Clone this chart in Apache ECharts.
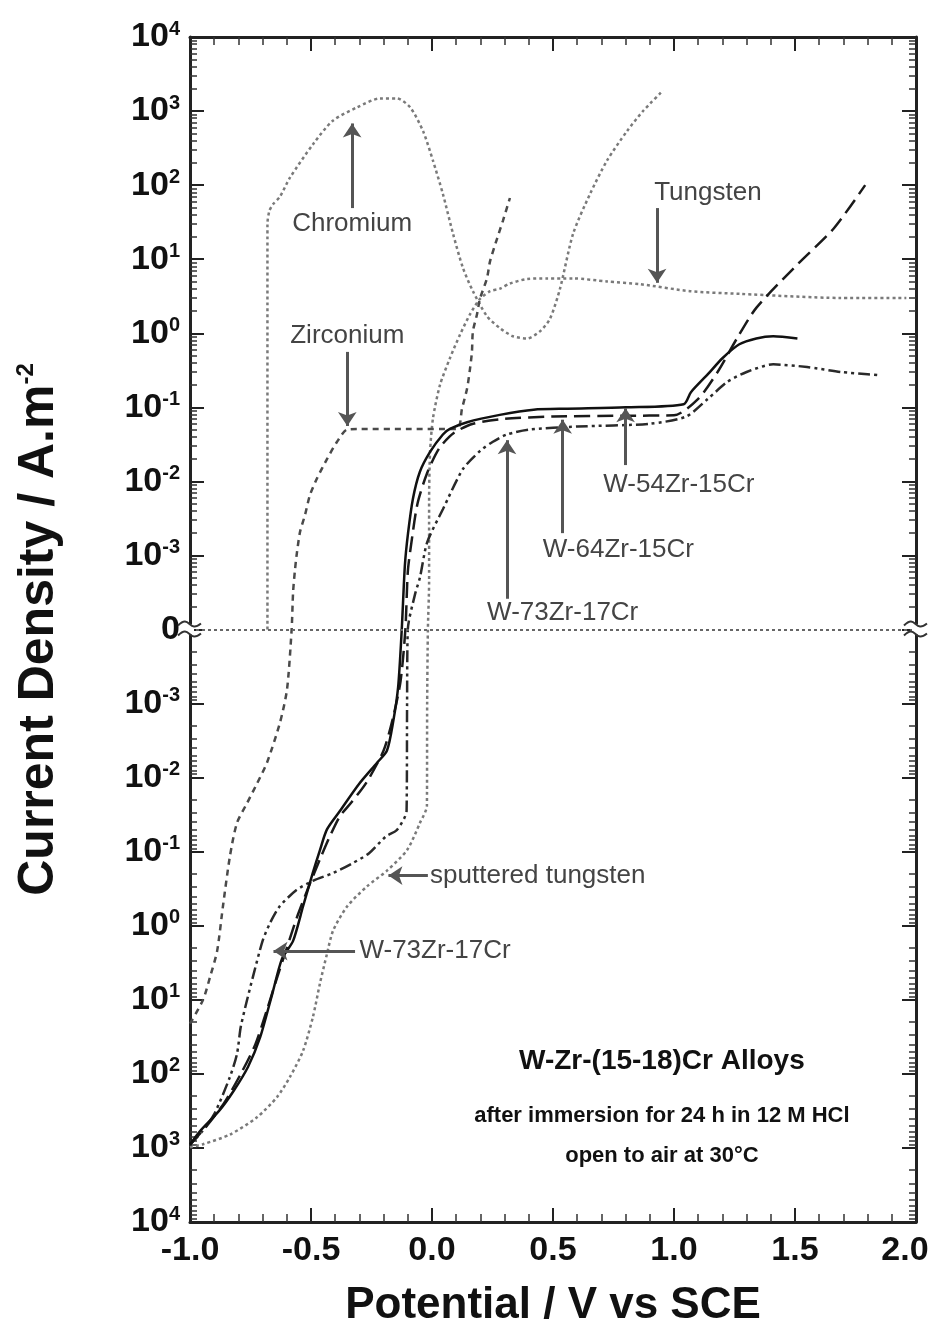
<!DOCTYPE html>
<html>
<head>
<meta charset="utf-8">
<title>W-Zr-(15-18)Cr Alloys</title>
<script src="https://cdn.jsdelivr.net/npm/echarts@6/dist/echarts.min.js"></script>
<style>
html, body { margin: 0; padding: 0; background: #fff; }
#chart { width: 932px; height: 1331px; }
</style>
</head>
<body>
<div id="chart"></div>
<script>
// [potential V vs SCE, current density A/m2]; cathodic currents are negative
var chromium = [
    [-0.68, 0], [-0.68, 30], [-0.672, 45], [-0.657, 55], [-0.628, 70], [-0.587, 126],
    [-0.49, 363], [-0.41, 741], [-0.31, 1120], [-0.215, 1480], [-0.145, 1480], [-0.09, 1120],
    [-0.037, 537], [0.004, 214], [0.045, 76], [0.087, 22], [0.128, 7.6], [0.169, 3.7],
    [0.227, 1.7], [0.281, 1.17], [0.335, 0.91], [0.393, 0.85], [0.446, 1.06], [0.488, 1.58],
    [0.529, 4.0], [0.583, 22], [0.653, 76], [0.723, 214], [0.806, 537], [0.872, 1000], [0.955, 1900]
];
var tungsten = [
    [-1.0, -980], [-0.946, -890], [-0.835, -660], [-0.723, -385], [-0.64, -205], [-0.587, -110],
    [-0.533, -49], [-0.492, -17], [-0.463, -6.0], [-0.434, -2.4], [-0.409, -1.17], [-0.351, -0.55],
    [-0.269, -0.295], [-0.186, -0.18], [-0.103, -0.095], [-0.05, -0.041], [-0.021, -0.024],
    [-0.02, -0.001], [-0.017, 0], [-0.012, 0.00044], [-0.012, 0.0052], [-0.008, 0.025],
    [0.004, 0.071], [0.033, 0.2], [0.074, 0.46], [0.116, 0.96], [0.157, 1.8], [0.198, 2.9],
    [0.24, 3.7], [0.281, 4.0], [0.322, 4.7], [0.393, 5.4], [0.475, 5.5], [0.583, 5.5],
    [0.723, 5.0], [0.86, 4.6], [1.066, 3.7], [1.273, 3.4], [1.686, 3.0], [1.96, 3.0]
];
var zirconium = [
    [-1.0, -21], [-0.946, -10], [-0.917, -4.9], [-0.888, -2.2], [-0.864, -0.55], [-0.835, -0.115],
    [-0.806, -0.041], [-0.764, -0.022], [-0.723, -0.012], [-0.682, -0.0063], [-0.628, -0.0018],
    [-0.599, -0.00064], [-0.58, 0], [-0.574, 0.00032], [-0.566, 0.00065], [-0.558, 0.0011],
    [-0.545, 0.0021], [-0.525, 0.0035], [-0.504, 0.0066], [-0.475, 0.011], [-0.434, 0.020],
    [-0.393, 0.034], [-0.351, 0.050], [-0.3, 0.051], [-0.1, 0.051], [0.103, 0.051],
    [0.124, 0.096], [0.145, 0.18], [0.157, 0.33], [0.165, 0.56], [0.169, 1.06], [0.186, 1.8],
    [0.198, 2.9], [0.227, 5.5], [0.24, 9.4], [0.269, 19], [0.293, 33], [0.322, 67]
];
var w54Zr15Cr = [
    [-1.0, -900], [-0.96, -600], [-0.88, -316], [-0.82, -170], [-0.76, -80], [-0.71, -32],
    [-0.66, -8.3], [-0.62, -2.8], [-0.574, -1.6], [-0.533, -0.55], [-0.492, -0.19], [-0.463, -0.095],
    [-0.434, -0.05], [-0.38, -0.028], [-0.30, -0.012], [-0.227, -0.0063], [-0.186, -0.0043],
    [-0.161, -0.0018], [-0.14, -0.0006], [-0.125, 0], [-0.112, 0.00074], [-0.099, 0.002],
    [-0.079, 0.0058], [-0.05, 0.0135], [-0.008, 0.025], [0.045, 0.043], [0.074, 0.051],
    [0.145, 0.063], [0.28, 0.079], [0.42, 0.093], [0.56, 0.096], [0.8, 0.1], [1.04, 0.11],
    [1.07, 0.16], [1.14, 0.28], [1.2, 0.46], [1.27, 0.71], [1.34, 0.85], [1.41, 0.91], [1.51, 0.85]
];
var w64Zr15Cr = [
    [-1.0, -900], [-0.93, -500], [-0.86, -250], [-0.79, -100], [-0.73, -40], [-0.68, -13],
    [-0.64, -5], [-0.6, -2], [-0.56, -0.8], [-0.51, -0.3], [-0.46, -0.12], [-0.42, -0.06],
    [-0.38, -0.033], [-0.33, -0.021], [-0.27, -0.0115], [-0.2, -0.0043], [-0.16, -0.0015],
    [-0.13, -0.0005], [-0.11, 0], [-0.1, 0.0006], [-0.085, 0.0015], [-0.06, 0.005],
    [-0.02, 0.013], [0.03, 0.028], [0.09, 0.045], [0.17, 0.06], [0.3, 0.07], [0.5, 0.075],
    [0.8, 0.077], [1.0, 0.078], [1.1, 0.13], [1.18, 0.3], [1.26, 0.85], [1.34, 2.2],
    [1.51, 8.5], [1.66, 26], [1.79, 100]
];
var w73Zr17Cr = [
    [-1.0, -900], [-0.95, -600], [-0.9, -350], [-0.835, -110], [-0.806, -54], [-0.79, -23],
    [-0.764, -10], [-0.74, -4.9], [-0.70, -1.6], [-0.67, -0.93], [-0.63, -0.55], [-0.56, -0.33],
    [-0.49, -0.245], [-0.41, -0.195], [-0.33, -0.144], [-0.26, -0.105], [-0.19, -0.062],
    [-0.145, -0.051], [-0.105, -0.028], [-0.103, -0.001], [-0.1, 0], [-0.07, 0.0003],
    [-0.05, 0.0005], [-0.02, 0.0015], [0.045, 0.0042], [0.128, 0.0147], [0.2, 0.026],
    [0.25, 0.034], [0.31, 0.043], [0.4, 0.05], [0.6, 0.055], [0.9, 0.06], [1.05, 0.075],
    [1.14, 0.13], [1.22, 0.22], [1.3, 0.30], [1.41, 0.38], [1.55, 0.35], [1.69, 0.30], [1.8, 0.28], [1.85, 0.27]
];
// tick labels: exponents of the decades shown on each side of zero
var decades = [-3, -2, -1, 0, 1, 2, 3, 4];
var potentialTicks = [-1.0, -0.5, 0.0, 0.5, 1.0, 1.5, 2.0];

var FONT = "'Liberation Sans', Arial, Helvetica, sans-serif";

// split log scale: anodic up, cathodic down, 0 in the middle
function axisPos(i){
    if(i === 0) return 0;
    var s = i > 0 ? 1 : -1;
    return s * (Math.log10(Math.abs(i)) - decades[0] + 1);
}

function minorTicks(){
    var v = [];
    for(var d = 0; d < decades.length; d++){
        for(var m = 2; m < 10; m++){
            v.push(d + Math.log10(m));
            v.push(-(d + Math.log10(m)));
        }
    }
    return v;
}

function curve(name, data, color, type, width){
    return {
        name: name,
        type: 'line',
        data: data.map(function(p){ return [p[0], axisPos(p[1])]; }),
        showSymbol: false,
        smooth: 0.25,
        animation: false,
        z: 3,
        lineStyle: { color: color, type: type, width: width }
    };
}

function arrow(x1, i1, x2, i2){
    return [{ coord: [x1, axisPos(i1)] }, { coord: [x2, axisPos(i2)] }];
}

function note(text, x, i, size, bold, align, color){
    return {
        name: text,
        coord: [x, axisPos(i)],
        label: {
            show: true, position: 'inside', formatter: text, align: align || 'center',
            fontSize: size, fontWeight: bold ? 'bold' : 'normal', fontFamily: FONT,
            color: color || '#444'
        }
    };
}

function yAxisBase(pos, labels, custom){
    return {
        type: 'value', position: pos, min: -8, max: 8, interval: 1,
        axisLine: { show: !custom, onZero: false, lineStyle: { color: '#222', width: 3 } },
        splitLine: { show: false },
        axisTick: custom ?
            { inside: true, length: 7, customValues: minorTicks(), lineStyle: { color: '#333', width: 1.5 } } :
            { inside: true, length: 14, lineStyle: { color: '#222', width: 2 } },
        axisLabel: labels ? {
            show: true, margin: 10, fontSize: 34, fontWeight: 'bold', fontFamily: FONT, color: '#111',
            showMinLabel: true, showMaxLabel: true,
            formatter: function(v){
                var k = Math.round(Math.abs(v));
                if(k === 0) return '0';
                return '{b|10}{s|' + decades[k - 1] + '}';
            },
            rich: {
                b: { fontSize: 34, fontWeight: 'bold', fontFamily: FONT, color: '#111', lineHeight: 36 },
                s: { fontSize: 20, fontWeight: 'bold', fontFamily: FONT, color: '#111', lineHeight: 18, verticalAlign: 'top' }
            }
        } : { show: false }
    };
}

function xAxisBase(pos, labels){
    var last = potentialTicks[potentialTicks.length - 1];
    return {
        type: 'value', position: pos,
        min: potentialTicks[0], max: last,
        interval: potentialTicks[1] - potentialTicks[0],
        axisLine: { show: true, onZero: false, lineStyle: { color: '#222', width: 3 } },
        splitLine: { show: false },
        axisTick: { inside: true, length: 14, lineStyle: { color: '#222', width: 2 } },
        minorTick: { show: true, splitNumber: 5, length: 8, lineStyle: { color: '#333', width: 1.5 } },
        axisLabel: labels ? {
            show: true, margin: 12, fontSize: 34, fontWeight: 'bold', fontFamily: FONT, color: '#111',
            formatter: function(v){
                // keep the last label inside the page
                if(Math.abs(v - last) < 1e-9) return '{r|' + v.toFixed(1) + '}';
                return v.toFixed(1);
            },
            rich: { r: { fontSize: 34, fontWeight: 'bold', fontFamily: FONT, color: '#111', padding: [0, 22, 0, 0] } }
        } : { show: false }
    };
}

var chart = echarts.init(document.getElementById('chart'));

var xBottom = xAxisBase('bottom', true);
xBottom.name = 'Potential / V vs SCE';
xBottom.nameLocation = 'middle';
xBottom.nameGap = 62;
xBottom.nameTextStyle = { fontSize: 44, fontWeight: 'bold', fontFamily: FONT, color: '#111' };

var yLeft = yAxisBase('left', true, false);
yLeft.name = 'Current Density / A.m{s|-2}';
yLeft.nameLocation = 'middle';
yLeft.nameGap = 126;
yLeft.nameTextStyle = {
    fontSize: 50, fontWeight: 'bold', fontFamily: FONT, color: '#111',
    rich: { s: { fontSize: 24, fontWeight: 'bold', fontFamily: FONT, color: '#111', lineHeight: 22, verticalAlign: 'top' } }
};

option = {
    backgroundColor: '#fff',
    animation: false,
    grid: { left: 190, right: 16, top: 37, bottom: 109, outerBoundsMode: 'none', containLabel: false },
    xAxis: [xBottom, xAxisBase('top', false)],
    yAxis: [yLeft, yAxisBase('left', false, true), yAxisBase('right', false, false), yAxisBase('right', false, true)],
    series: [
        curve('Chromium', chromium, '#7a7a7a', [3, 3], 2.5),
        curve('Tungsten', tungsten, '#7a7a7a', [3, 3], 2.5),
        curve('Zirconium', zirconium, '#4a4a4a', [6, 5], 2.5),
        curve('W-73Zr-17Cr', w73Zr17Cr, '#2a2a2a', [12, 4, 3, 4, 3, 4], 2.5),
        curve('W-64Zr-15Cr', w64Zr15Cr, '#1a1a1a', [16, 7], 2.5),
        curve('W-54Zr-15Cr', w54Zr15Cr, '#111', 'solid', 2.5),
        {
            name: 'zero', type: 'line', data: [], silent: true,
            markLine: {
                silent: true, symbol: ['none', 'none'], animation: false,
                label: { show: false },
                lineStyle: { color: '#666', type: [3, 3], width: 2 },
                data: [{ yAxis: 0 }]
            }
        },
        {
            name: 'notes', type: 'line', data: [], silent: true, z: 5,
            markLine: {
                silent: true, symbol: ['none', 'arrow'], symbolSize: 14, animation: false,
                label: { show: false },
                lineStyle: { color: '#555', type: 'solid', width: 3 },
                itemStyle: { color: '#222' },
                data: [
                    arrow(-0.33, 49, -0.33, 680),
                    arrow(0.93, 49, 0.93, 4.8),
                    arrow(-0.35, 0.56, -0.35, 0.056),
                    arrow(0.80, 0.0166, 0.80, 0.097),
                    arrow(0.54, 0.002, 0.54, 0.068),
                    arrow(0.31, 0.00026, 0.31, 0.036),
                    arrow(-0.017, -0.21, -0.18, -0.21),
                    arrow(-0.318, -2.2, -0.655, -2.2)
                ]
            },
            markPoint: {
                silent: true, symbol: 'circle', symbolSize: 0, animation: false,
                data: [
                    note('Chromium', -0.33, 30, 26),
                    note('Tungsten', 1.14, 78, 26),
                    note('Zirconium', -0.35, 0.91, 26),
                    note('W-54Zr-15Cr', 1.02, 0.0091, 26),
                    note('W-64Zr-15Cr', 0.77, 0.0012, 26),
                    note('W-73Zr-17Cr', 0.54, 0.00017, 26),
                    note('sputtered tungsten', -0.008, -0.21, 26, false, 'left'),
                    note('W-73Zr-17Cr', -0.30, -2.2, 26, false, 'left'),
                    note('W-Zr-(15-18)Cr Alloys', 0.95, -68, 28, true, 'center', '#111'),
                    note('after immersion for 24 h in 12 M HCl', 0.95, -370, 22, true, 'center', '#111'),
                    note('open to air at 30°C', 0.95, -1290, 22, true, 'center', '#111')
                ]
            }
        }
    ]
};
chart.setOption(option);

// axis break marks at zero on both vertical axes
function breakMarks(){
    var left = chart.convertToPixel({ xAxisIndex: 0, yAxisIndex: 0 }, [potentialTicks[0], 0]);
    var right = chart.convertToPixel({ xAxisIndex: 0, yAxisIndex: 0 }, [potentialTicks[potentialTicks.length - 1], 0]);
    var els = [];
    [left[0], right[0]].forEach(function(x){
        var y = left[1];
        els.push({ type: 'rect', z: 100, shape: { x: x - 4, y: y - 5, width: 8, height: 10 }, style: { fill: '#fff' } });
        [-5, 5].forEach(function(dy){
            els.push({
                type: 'polyline', z: 101,
                shape: { points: [[x - 12, y + dy + 1], [x - 5, y + dy - 3], [x + 4, y + dy + 2], [x + 11, y + dy - 1]], smooth: 0.4 },
                style: { stroke: '#333', lineWidth: 2, fill: null }
            });
        });
    });
    chart.setOption({ graphic: els });
}
breakMarks();
</script>
</body>
</html>
